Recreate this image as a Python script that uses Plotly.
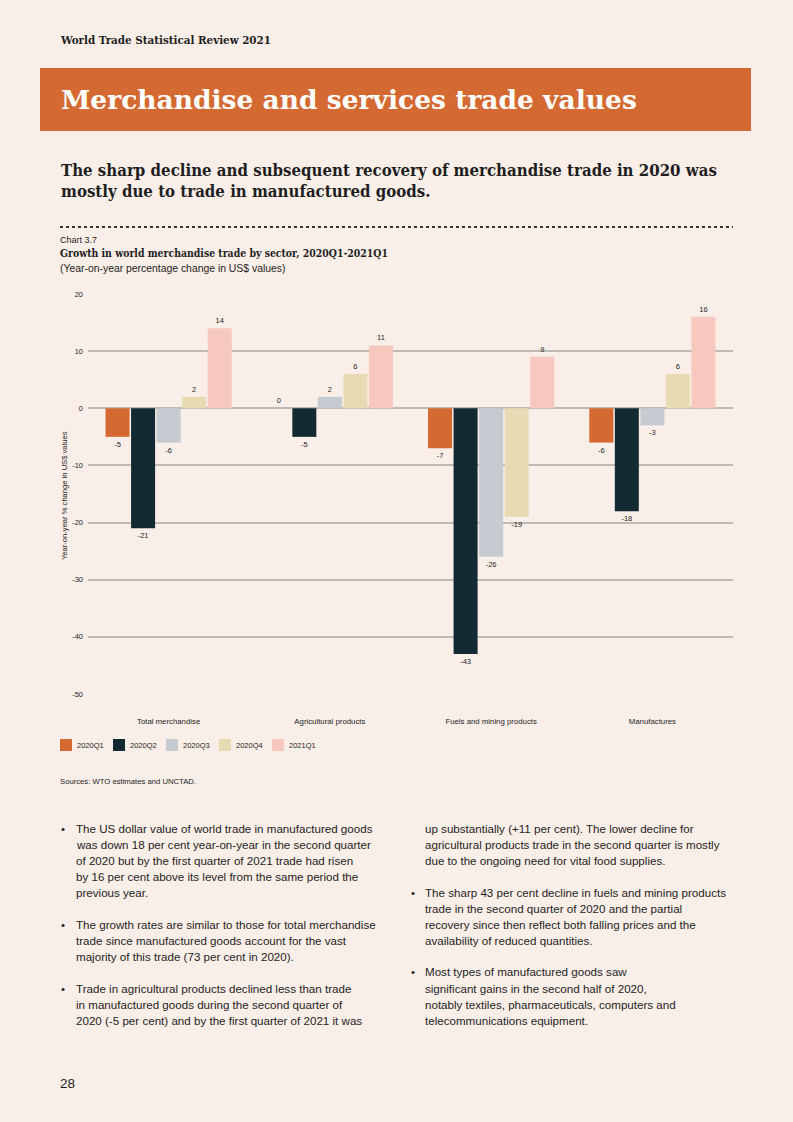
import plotly.graph_objects as go

W, H = 793, 1122
L, R, T, B = 88, 733, 294, 694

categories = ["Total merchandise", "Agricultural products", "Fuels and mining products", "Manufactures"]
series_names = ["2020Q1", "2020Q2", "2020Q3", "2020Q4", "2021Q1"]
q1_2020 = [-5, 0, -7, -6]
q2_2020 = [-21, -5, -43, -18]
q3_2020 = [-6, 2, -26, -3]
q4_2020 = [2, 6, -19, 6]
q1_2021 = [14, 11, 9, 16]
y_ticks = [20, 10, 0, -10, -20, -30, -40, -50]
y_tick_labels = ["20", "10", "0", "-10", "-20", "-30", "-40", "-50"]

colors = ["#D46A31", "#142A33", "#C5CBD1", "#E8DBB4", "#F7C8BE"]
BG = "#F9EEE8"
DARK = "#1E1E1E"
SANS = "Liberation Sans, Arial, sans-serif"
SERIF = "DejaVu Serif, serif"
SERIF_C = "DejaVu Serif Condensed, DejaVu Serif, serif"


def px(x):
    return (x - L) / (R - L)


def py(y):
    return (B - y) / (B - T)


ann = []


def text(x, y, s, size, family=SANS, color=DARK, anchor="left", bold=False, angle=0):
    if bold:
        s = f"<b>{s}</b>"
    if anchor == "left":
        x -= 2
    ann.append(dict(x=px(x), y=py(y), xref="paper", yref="paper", text=s, showarrow=False,
                    xanchor=anchor, yanchor="middle", textangle=angle,
                    font=dict(size=size, family=family, color=color)))


fig = go.Figure()
legend_ids = ["legend", "legend2", "legend3", "legend4", "legend5"]
legend_layout = {}
for k, (name, vals, col, lg) in enumerate(zip(series_names, [q1_2020, q2_2020, q3_2020, q4_2020, q1_2021], colors, legend_ids)):
    fig.add_trace(go.Bar(
        x=categories, y=vals, name=" ", hovertext=name, marker=dict(color=col, line=dict(width=0)),
        text=[f"{v:d}" for v in vals], textposition="outside", constraintext="none",
        textfont=dict(size=7.5, color=DARK, family=SANS), cliponaxis=False, legend=lg,
    ))
    legend_layout[lg] = dict(
        orientation="h", x=px(46 + k * 53), y=py(745), xanchor="left", yanchor="middle",
        font=dict(size=7.5, family=SANS, color=DARK), bgcolor="rgba(0,0,0,0)",
        itemclick=False, itemdoubleclick=False,
    )
    # legend label text next to the swatch
    text(77 + k * 53, 745, name, 7.5)

text(60, 40, "World Trade Statistical Review 2021", 11.5, family=SERIF_C, bold=True)
text(61, 100, "Merchandise and services trade values", 26.5, family=SERIF, color="white", bold=True)
text(61, 170, "The sharp decline and subsequent recovery of merchandise trade in 2020 was", 16.7, family=SERIF_C, bold=True)
text(61, 191, "mostly due to trade in manufactured goods.", 16.7, family=SERIF_C, bold=True)
text(60, 240, "Chart 3.7", 9, family=SANS)
text(60, 254, "Growth in world merchandise trade by sector, 2020Q1-2021Q1", 10.4, family=SERIF_C, bold=True)
text(60, 268, "(Year-on-year percentage change in US$ values)", 10.4, family=SANS)
text(64, 496, "Year-on-year % change in US$ values", 7.6, family=SANS, anchor="center", angle=-90)
text(60, 781, "Sources: WTO estimates and UNCTAD.", 7.7, family=SANS)

left_col = [
    (828, "The US dollar value of world trade in manufactured goods", True),
    (844, "was down 18 per cent year-on-year in the second quarter", False),
    (860, "of 2020 but by the first quarter of 2021 trade had risen", False),
    (876, "by 16 per cent above its level from the same period the", False),
    (892, "previous year.", False),
    (924, "The growth rates are similar to those for total merchandise", True),
    (940, "trade since manufactured goods account for the vast", False),
    (956, "majority of this trade (73 per cent in 2020).", False),
    (988, "Trade in agricultural products declined less than trade", True),
    (1004, "in manufactured goods during the second quarter of", False),
    (1020, "2020 (-5 per cent) and by the first quarter of 2021 it was", False),
]
right_col = [
    (828, "up substantially (+11 per cent). The lower decline for", False),
    (844, "agricultural products trade in the second quarter is mostly", False),
    (860, "due to the ongoing need for vital food supplies.", False),
    (892, "The sharp 43 per cent decline in fuels and mining products", True),
    (908, "trade in the second quarter of 2020 and the partial", False),
    (924, "recovery since then reflect both falling prices and the", False),
    (940, "availability of reduced quantities.", False),
    (972, "Most types of manufactured goods saw", True),
    (988, "significant gains in the second half of 2020,", False),
    (1004, "notably textiles, pharmaceuticals, computers and", False),
    (1020, "telecommunications equipment.", False),
]
BODY = 11.6
for y, s, bullet in left_col:
    if bullet:
        text(61, y, "•", BODY)
    text(76, y, s, BODY)
for y, s, bullet in right_col:
    if bullet:
        text(411, y, "•", BODY)
    text(425, y, s, BODY)
text(60, 1083, "28", 13.5)

shapes = [
    dict(type="rect", xref="paper", yref="paper", x0=px(40), x1=px(751), y0=py(68), y1=py(131),
         fillcolor="#D46A31", line=dict(width=0), layer="below"),
    dict(type="line", xref="paper", yref="paper", x0=px(60), x1=px(733), y0=py(227), y1=py(227),
         line=dict(color="#333333", width=2.2, dash="dot")),
]

fig.update_layout(
    width=W, height=H,
    margin=dict(l=L, r=W - R, t=T, b=H - B, pad=0),
    paper_bgcolor=BG, plot_bgcolor=BG,
    barmode="group", bargap=0.208, bargroupgap=0.06,
    showlegend=True,
    annotations=ann, shapes=shapes,
    font=dict(family=SANS, color=DARK),
    **legend_layout,
)
fig.update_xaxes(showgrid=False, showline=False, ticks="", tickfont=dict(size=7.8, color=DARK),
                 ticklabelstandoff=21, fixedrange=True)
fig.update_yaxes(range=[-50, 20], tickvals=y_ticks, ticktext=y_tick_labels, showgrid=True,
                 gridcolor="#BEBAB6", gridwidth=1.5,
                 zeroline=True, zerolinecolor="#BEBAB6", zerolinewidth=1.5, showline=False,
                 tickfont=dict(size=7.5, color=DARK), ticks="", ticklabelstandoff=4, fixedrange=True)

fig.write_html("out.html", config={"displayModeBar": False},
               post_script="document.body.style.margin='0';document.body.style.background='#F9EEE8';")
